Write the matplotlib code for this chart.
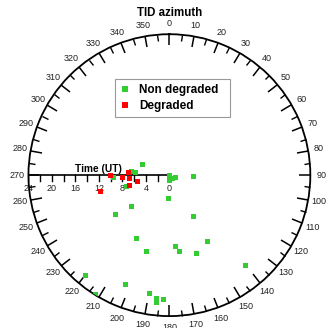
import numpy as np
import matplotlib
matplotlib.use('Agg')
import matplotlib.pyplot as plt
from matplotlib.lines import Line2D
from matplotlib.patches import Rectangle

plt.rcParams['font.family'] = ['Liberation Sans', 'DejaVu Sans']

# azimuth [deg] and time [UT hours] of each event
az_green = [291.7, 91.7, 182.5, 230.7, 234.3, 150.1, 267.6, 275.5, 274.9, 256.5,
            270.0, 189.0, 133.0, 109.0,
            208.1, 197.0, 175.2, 172.8, 161.0, 150.6, 139.7, 220.1, 212.0, 202.1,
            189.9, 186.0, 186.1, 183.0]
time_green = [5.06, 4.09, 3.97, 8.42, 11.45, 7.99, 9.54, 6.54, 5.94, 7.67,
              0.14, 0.86, 0.63, 1.03,
              12.15, 13.58, 12.08, 13.09, 13.99, 12.96, 20.0, 22.2, 23.8, 20.0,
              20.3, 21.0, 21.8, 21.2]

az_red = [270.5, 267.2, 273.7, 266.5, 256.6, 259.6, 257.4]
time_red = [10.1, 8.1, 7.05, 6.9, 7.0, 5.64, 12.09]

time_ticks = [24, 20, 16, 12, 8, 4, 0]

green = '#33cc33'
red = '#ff0000'

fig = plt.figure(figsize=(3.27, 3.28), dpi=100)
rect = [0.087, 0.036, 0.862, 0.860]

# cartesian overlay for the time axis (drawn under the points)
axc = fig.add_axes(rect)
axc.set_xlim(-24, 24)
axc.set_ylim(-24, 24)
axc.set_aspect('equal')
axc.axis('off')
axc.plot([-24, 0], [0, 0], color='black', lw=1.2)
for t in range(0, 25, 2):
    axc.plot([-t, -t], [0, -1.0], color='black', lw=1.0)
for t in time_ticks:
    axc.text(-t, -2.2, str(t), ha='center', va='center', fontsize=6.5, color='#222222')
axc.text(-12.1, 1.0, 'Time (UT)', ha='center', va='center', fontsize=7.3, fontweight='bold')

ax = fig.add_axes(rect, projection='polar')
ax.patch.set_visible(False)
ax.set_theta_zero_location('N')
ax.set_theta_direction(-1)
ax.set_rlim(0, 24)
ax.set_yticks([])
ax.grid(False)
ax.set_xticks(np.deg2rad(np.arange(0, 360, 10)))
ax.set_xticklabels([str(a) for a in range(0, 360, 10)], fontsize=6.5, color='#222222')
ax.set_xticks(np.deg2rad(np.arange(5, 360, 10)), minor=True)
# tick marks on the outer circle, pointing inward
ax.tick_params(axis='x', which='both', bottom=False, top=True, direction='in')
ax.tick_params(axis='x', which='major', length=8, width=1.1, pad=1)
ax.tick_params(axis='x', which='minor', length=4.5, width=1.0)
ax.spines['polar'].set_linewidth(1.3)

ax.plot(np.deg2rad(az_green), time_green, 's', color=green, ms=3.6, mew=0, zorder=3)
ax.plot(np.deg2rad(az_red), time_red, 's', color=red, ms=3.6, mew=0, zorder=4)

# legend box
fig.patches.append(Rectangle((115 / 327, 1 - 117 / 328), 115 / 327, 38 / 328,
                             transform=fig.transFigure, facecolor='white',
                             edgecolor='#999999', lw=0.8, zorder=5))
handles = [Line2D([], [], marker='s', ls='none', color=green, ms=4.5, mew=0),
           Line2D([], [], marker='s', ls='none', color=red, ms=4.5, mew=0)]
leg = fig.legend(handles, ['Non degraded', 'Degraded'], loc='upper left',
                 bbox_to_anchor=(115 / 327, 1 - 79 / 328),
                 prop={'size': 8.5, 'weight': 'bold'}, frameon=False,
                 borderpad=0.45, labelspacing=0.3, handlelength=0.8,
                 handletextpad=0.8, borderaxespad=0)
leg.set_zorder(6)

fig.text(0.518, 1 - 12.7 / 328, 'TID azimuth', ha='center', va='center',
         fontsize=8.3, fontweight='bold')

fig.savefig('out.png', dpi=100)
